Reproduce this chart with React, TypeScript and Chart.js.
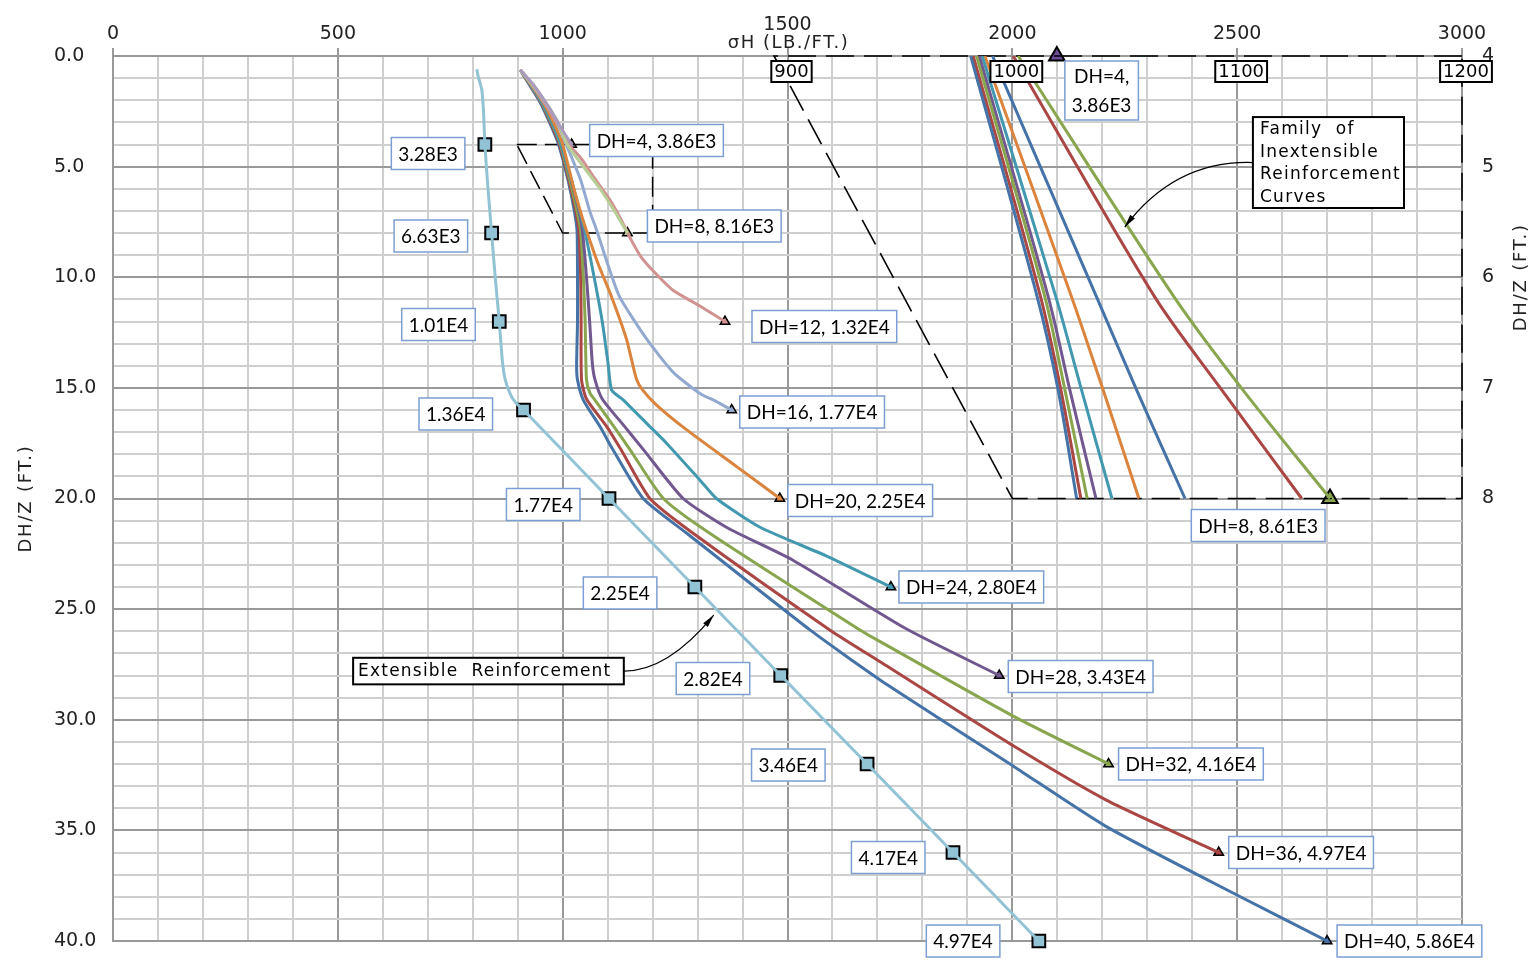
import React, { useEffect, useRef } from 'react';
import { Chart, registerables } from 'chart.js';

Chart.register(...registerables);

// ---------------- axis ticks ----------------
const sigmaTicks = [0, 500, 1000, 1500, 2000, 2500, 3000];
const depthTicks = [0, 5, 10, 15, 20, 25, 30, 35, 40];
const insetDepthTicks = [4, 5, 6, 7, 8];
const insetSigmaTicks = [900, 1000, 1100, 1200];

// ---------------- extensible reinforcement ----------------
const extSigma = [809, 813, 820, 824, 827, 834, 842, 850, 859, 866, 872, 884, 897, 913, 1103, 1294, 1485, 1677, 1868, 2059];
const extDepth = [0.6, 1.0, 1.5, 2.5, 4, 6, 8, 10, 12, 13.8, 14.6, 15.3, 15.7, 16, 20, 24, 28, 32, 36, 40];
const extMarkSigma = [827, 842, 859, 913, 1103, 1294, 1485, 1677, 1868, 2059];
const extMarkDepth = [4, 8, 12, 16, 20, 24, 28, 32, 36, 40];
const extMarkLabels = ['3.28E3', '6.63E3', '1.01E4', '1.36E4', '1.77E4', '2.25E4', '2.82E4', '3.46E4', '4.17E4', '4.97E4'];

// ---------------- DH curves (main plot) ----------------
const dh4Sigma = [906, 935, 972, 1001, 1020];
const dh4Depth = [0.63, 1.3, 2.4, 3.4, 4];
const dh8Sigma = [906, 933, 962, 990, 1010, 1046, 1083, 1115, 1144];
const dh8Depth = [0.63, 1.3, 2.1, 3.0, 4.0, 5.0, 6.0, 7.0, 8.0];
const dh12Sigma = [906, 932, 962, 990, 1014, 1040, 1070, 1105, 1130, 1152, 1175, 1210, 1246, 1305, 1361];
const dh12Depth = [0.63, 1.3, 2.2, 3.1, 4.0, 4.6, 5.5, 6.5, 7.4, 8.3, 9.1, 9.9, 10.6, 11.3, 12.0];
const dh16Sigma = [906, 936, 966, 994, 1008, 1040, 1060, 1076, 1100, 1127, 1187, 1246, 1305, 1340, 1376];
const dh16Depth = [0.63, 1.4, 2.3, 3.3, 4.0, 5.6, 7.0, 7.9, 9.4, 10.9, 12.8, 14.3, 15.25, 15.6, 16.0];
const dh20Sigma = [906, 930, 957, 982, 1000, 1025, 1042, 1053, 1079, 1109, 1142, 1164, 1178, 1210, 1276, 1387, 1483];
const dh20Depth = [0.63, 1.3, 2.1, 3.1, 4.0, 6.0, 7.2, 7.9, 9.4, 10.9, 12.8, 14.6, 15.1, 15.8, 16.9, 18.56, 20.0];
const dh24Sigma = [906, 928, 954, 978, 996, 1018, 1035, 1049, 1070, 1088, 1101, 1109, 1135, 1194, 1231, 1305, 1342, 1439, 1587, 1730];
const dh24Depth = [0.63, 1.3, 2.1, 3.1, 4.0, 5.5, 6.8, 7.9, 10.0, 12.0, 13.9, 15.1, 15.55, 16.75, 17.5, 19.16, 20.0, 21.3, 22.6, 24.0];
const dh28Sigma = [906, 929, 955, 979, 997, 1020, 1036, 1044, 1053, 1060, 1066, 1072, 1088, 1138, 1180, 1268, 1364, 1513, 1765, 1971];
const dh28Depth = [0.63, 1.3, 2.1, 3.1, 4.0, 5.7, 7.0, 7.9, 10.0, 12.0, 13.9, 14.64, 15.5, 16.75, 17.8, 20.0, 21.3, 22.8, 25.9, 28.0];
const dh32Sigma = [906, 928, 953, 977, 995, 1017, 1032, 1040, 1046, 1050, 1053, 1061, 1072, 1114, 1150, 1224, 1327, 1661, 1706, 2004, 2214];
const dh32Depth = [0.63, 1.3, 2.1, 3.1, 4.0, 5.7, 7.0, 7.9, 10.0, 12.0, 14.64, 15.25, 15.55, 16.75, 17.8, 20.0, 21.57, 25.94, 26.47, 29.86, 32.0];
const dh36Sigma = [906, 927, 952, 975, 993, 1015, 1029, 1036, 1040, 1041, 1042, 1053, 1098, 1130, 1194, 1290, 1594, 1706, 2004, 2209, 2459];
const dh36Depth = [0.63, 1.3, 2.1, 3.1, 4.0, 5.7, 7.0, 7.9, 10.0, 12.0, 14.64, 15.5, 16.75, 17.8, 20.0, 21.57, 25.94, 27.38, 31.2, 33.63, 36.0];
const dh40Sigma = [906, 926, 950, 973, 991, 1013, 1026, 1032, 1033, 1033, 1031, 1033, 1046, 1083, 1112, 1179, 1276, 1550, 1706, 2004, 2209, 2507, 2700];
const dh40Depth = [0.63, 1.3, 2.1, 3.1, 4.0, 5.7, 7.0, 7.9, 10.0, 12.0, 14.0, 14.64, 15.55, 16.75, 17.8, 20.0, 21.57, 25.94, 28.2, 32.12, 34.83, 38.0, 40.0];

const dhSigma = [dh4Sigma, dh8Sigma, dh12Sigma, dh16Sigma, dh20Sigma, dh24Sigma, dh28Sigma, dh32Sigma, dh36Sigma, dh40Sigma];
const dhDepth = [dh4Depth, dh8Depth, dh12Depth, dh16Depth, dh20Depth, dh24Depth, dh28Depth, dh32Depth, dh36Depth, dh40Depth];
const dhLabels = ['DH=4, 3.86E3', 'DH=8, 8.16E3', 'DH=12, 1.32E4', 'DH=16, 1.77E4', 'DH=20, 2.25E4', 'DH=24, 2.80E4', 'DH=28, 3.43E4', 'DH=32, 4.16E4', 'DH=36, 4.97E4', 'DH=40, 5.86E4'];
const dhColors = ['#A99BBD', '#B9CD96', '#D19392', '#93A9CF', '#DB843D', '#4198AF', '#71588F', '#89A54E', '#AA4643', '#4572A7'];

// ---------------- inset: inextensible family (DH/Z 4..8, sigma 900..1200) ----------------
const insetDepth = [4, 6.18, 7.02, 8];
const inset1Sigma = [981.5, 1011.1, 1020.4, 1028.6];
const inset2Sigma = [982.6, 1012.6, 1021.6, 1030.5];
const inset3Sigma = [984.1, 1014.5, 1023.4, 1033.3];
const inset4Sigma = [985.3, 1016.0, 1025.6, 1037.2];
const inset5Sigma = [986.6, 1019.4, 1030.8, 1044.3];
const inset6Sigma = [987.8, 1026.4, 1040.4, 1056.3];
const inset7Sigma = [991.2, 1037.5, 1055.3, 1076.8];
const inset8Sigma = [1000.4, 1063.4, 1093.2, 1128.7];
const inset9Sigma = [1002.6, 1072.0, 1102.6, 1141.3];
const insetSigma = [inset1Sigma, inset2Sigma, inset3Sigma, inset4Sigma, inset5Sigma, inset6Sigma, inset7Sigma, inset8Sigma, inset9Sigma];
const insetColors = ['#4572A7', '#AA4643', '#89A54E', '#71588F', '#4198AF', '#DB843D', '#4572A7', '#AA4643', '#89A54E'];
const insetMarkSigma = [1019.8, 1141.3];
const insetMarkDepth = [4, 8];
const insetMarkColors = ['#6B4E98', '#89A54E'];

// zoom-indicator outlines
const smallBoxSigma = [898, 1200, 1200, 1000, 898];
const smallBoxDepth = [4, 4, 8, 8, 4];
const insetBoxSigma = [1200, 894, 1000, 1200, 1200];
const insetBoxDepth = [4, 4, 8, 8, 4];

// ---------------- layout of annotations (not data) ----------------
const extLabelGap = [20, 24, 24, 31, 29, 38, 31, 42, 28, 39];
const extLabelDy = [9, 3, 3, 4, 6, 6, 3, 1, 5, 0];
const dhLabelGap = [18, 20, 27, 8, 8, 8, 9, 10, 10, 10];
const dhLabelDy = [-4, -7, 5, 2, 2, 0, 1, 0, 0, 0];
const extNote = { left: 534, right: 1136, top: 27.2, bottom: 28.4, ctrlX: 1234, ctrlY: 27.8, tipX: 1336, tipY: 25.27 };
const famNote = { left: 2535, right: 2871, top: 2.76, bottom: 6.87, ctrlX: 2362, ctrlY: 4.7, tipX: 2250, tipY: 7.73 };

const CAD = '"DejaVu Sans", sans-serif';
const LBL = 'Lato, "Noto Sans", sans-serif';
const BOX_BLUE = '#7C9ED2';

const pts = (xs: number[], ys: number[]) => xs.map((x, i) => ({ x, y: ys[i] }));

function labelBox(ctx: CanvasRenderingContext2D, lines: string[], x: number, y: number, w: number, h: number) {
  ctx.fillStyle = '#fff';
  ctx.fillRect(x, y, w, h);
  ctx.strokeStyle = BOX_BLUE;
  ctx.lineWidth = 1.5;
  ctx.strokeRect(x, y, w, h);
  ctx.fillStyle = '#000';
  ctx.textAlign = 'center';
  ctx.textBaseline = 'middle';
  const lh = h / lines.length;
  lines.forEach((t, i) => ctx.fillText(t, x + w / 2, y + lh * (i + 0.5) + 1));
}

function spacedText(ctx: any, text: string, x: number, y: number, spacing: number) {
  ctx.letterSpacing = spacing + 'px';
  ctx.fillText(text, x, y);
  ctx.letterSpacing = '0px';
}

function arrowCurve(ctx: CanvasRenderingContext2D, x0: number, y0: number, cx: number, cy: number, x1: number, y1: number) {
  ctx.strokeStyle = '#000';
  ctx.lineWidth = 1.2;
  ctx.beginPath();
  ctx.moveTo(x0, y0);
  ctx.quadraticCurveTo(cx, cy, x1, y1);
  ctx.stroke();
  const a = Math.atan2(y1 - cy, x1 - cx);
  const len = 13, hw = 3;
  ctx.fillStyle = '#000';
  ctx.beginPath();
  ctx.moveTo(x1, y1);
  ctx.lineTo(x1 - len * Math.cos(a) + hw * Math.sin(a), y1 - len * Math.sin(a) - hw * Math.cos(a));
  ctx.lineTo(x1 - len * Math.cos(a) - hw * Math.sin(a), y1 - len * Math.sin(a) + hw * Math.cos(a));
  ctx.closePath();
  ctx.fill();
}

const annotationPlugin = {
  id: 'annotations',
  afterDatasetsDraw(chart: any) {
    const ctx: CanvasRenderingContext2D = chart.ctx;
    const xs = chart.scales.x, ys = chart.scales.y, xi = chart.scales.xInset, yi = chart.scales.yInset;
    const area = chart.chartArea;
    ctx.save();

    // extensible labels
    ctx.font = `19px ${LBL}`;
    extMarkSigma.forEach((s, i) => {
      const px = xs.getPixelForValue(s), py = ys.getPixelForValue(extMarkDepth[i]);
      const t = extMarkLabels[i];
      const w = ctx.measureText(t).width + 14, h = 32;
      const right = px - extLabelGap[i];
      labelBox(ctx, [t], right - w, py + extLabelDy[i] - h / 2, w, h);
    });
    // DH labels
    dhSigma.forEach((arr, i) => {
      const dep = dhDepth[i];
      const px = xs.getPixelForValue(arr[arr.length - 1]), py = ys.getPixelForValue(dep[dep.length - 1]);
      const t = dhLabels[i];
      const w = ctx.measureText(t).width + 14, h = 32;
      labelBox(ctx, [t], px + dhLabelGap[i], py + dhLabelDy[i] - h / 2, w, h);
    });
    // inset labels
    {
      const px = xi.getPixelForValue(insetMarkSigma[0]), py = yi.getPixelForValue(insetMarkDepth[0]);
      const lines = ['DH=4,', '3.86E3'];
      const w = Math.max(...lines.map((l) => ctx.measureText(l).width)) + 14;
      labelBox(ctx, lines, px + 8, py + 5, w, 59);
      const px2 = xi.getPixelForValue(insetMarkSigma[1]), py2 = yi.getPixelForValue(insetMarkDepth[1]);
      const t2 = 'DH=8, 8.61E3';
      const w2 = ctx.measureText(t2).width + 14;
      labelBox(ctx, [t2], px2 - 5 - w2, py2 + 11, w2, 32);
    }

    // inset boxed sigma ticks
    ctx.font = `18px ${CAD}`;
    insetSigmaTicks.forEach((v) => {
      const px = xi.getPixelForValue(v) + 4;
      const t = String(v);
      const w = ctx.measureText(t).width + 6;
      const top = area.top + 5, h = 21;
      ctx.fillStyle = '#fff';
      ctx.fillRect(px - w / 2, top, w, h);
      ctx.strokeStyle = '#000';
      ctx.lineWidth = 2;
      ctx.strokeRect(px - w / 2, top, w, h);
      ctx.fillStyle = '#000';
      ctx.textAlign = 'center';
      ctx.textBaseline = 'middle';
      ctx.fillText(t, px, top + h / 2 + 1);
    });

    // Extensible Reinforcement note
    {
      const l = xs.getPixelForValue(extNote.left), r = xs.getPixelForValue(extNote.right);
      const t = ys.getPixelForValue(extNote.top), b = ys.getPixelForValue(extNote.bottom);
      ctx.fillStyle = '#fff';
      ctx.fillRect(l, t, r - l, b - t);
      ctx.strokeStyle = '#000';
      ctx.lineWidth = 2;
      ctx.strokeRect(l, t, r - l, b - t);
      ctx.fillStyle = '#000';
      ctx.font = `17px ${CAD}`;
      ctx.textAlign = 'left';
      ctx.textBaseline = 'middle';
      spacedText(ctx, 'Extensible  Reinforcement', l + 5, (t + b) / 2 + 1, 1.2);
      arrowCurve(ctx, r, (t + b) / 2, xs.getPixelForValue(extNote.ctrlX), ys.getPixelForValue(extNote.ctrlY),
        xs.getPixelForValue(extNote.tipX), ys.getPixelForValue(extNote.tipY));
    }
    // Family note
    {
      const l = xs.getPixelForValue(famNote.left), r = xs.getPixelForValue(famNote.right);
      const t = ys.getPixelForValue(famNote.top), b = ys.getPixelForValue(famNote.bottom);
      ctx.fillStyle = '#fff';
      ctx.fillRect(l, t, r - l, b - t);
      ctx.strokeStyle = '#000';
      ctx.lineWidth = 2;
      ctx.strokeRect(l, t, r - l, b - t);
      ctx.fillStyle = '#000';
      ctx.font = `17px ${CAD}`;
      ctx.textAlign = 'left';
      ctx.textBaseline = 'middle';
      const lines = ['Family  of', 'Inextensible', 'Reinforcement', 'Curves'];
      const lh = (b - t) / 4;
      lines.forEach((s, i) => spacedText(ctx, s, l + 7, t + lh * (i + 0.5) + 1, 1.3));
      arrowCurve(ctx, l, (t + b) / 2, xs.getPixelForValue(famNote.ctrlX), ys.getPixelForValue(famNote.ctrlY),
        xs.getPixelForValue(famNote.tipX), ys.getPixelForValue(famNote.tipY));
    }

    // axis titles
    ctx.fillStyle = '#222';
    ctx.font = `18px ${CAD}`;
    ctx.textAlign = 'center';
    ctx.textBaseline = 'middle';
    spacedText(ctx, 'σH (LB./FT.)', xs.getPixelForValue(1500) + 1, area.top - 13, 1.5);
    ctx.save();
    ctx.translate(26, (area.top + area.bottom) / 2);
    ctx.rotate(-Math.PI / 2);
    spacedText(ctx, 'DH/Z (FT.)', 0, 0, 1.8);
    ctx.restore();
    ctx.save();
    ctx.translate(area.right + 59, yi.getPixelForValue(6));
    ctx.rotate(-Math.PI / 2);
    spacedText(ctx, 'DH/Z (FT.)', 0, 0, 1.8);
    ctx.restore();

    ctx.restore();
  },
};

function buildConfig(): any {
  const datasets: any[] = [];
  datasets.push({
    label: 'Extensible Reinforcement', data: pts(extSigma, extDepth), borderColor: '#92C3D5', borderWidth: 3,
    pointRadius: 0, showLine: true, tension: 0.2, xAxisID: 'x', yAxisID: 'y',
  });
  dhSigma.forEach((arr, i) => {
    datasets.push({
      label: dhLabels[i], data: pts(arr, dhDepth[i]), borderColor: dhColors[i], borderWidth: 3,
      pointRadius: 0, showLine: true, tension: 0.2, xAxisID: 'x', yAxisID: 'y',
    });
  });
  insetSigma.forEach((arr, i) => {
    datasets.push({
      label: 'Inextensible ' + (i + 1), data: pts(arr, insetDepth), borderColor: insetColors[i], borderWidth: 3,
      pointRadius: 0, showLine: true, tension: 0.3, xAxisID: 'xInset', yAxisID: 'yInset',
    });
  });
  datasets.push({
    label: 'zoom box', data: pts(smallBoxSigma, smallBoxDepth), borderColor: '#000', borderWidth: 1.5,
    borderDash: [20, 8], pointRadius: 0, showLine: true, tension: 0, xAxisID: 'x', yAxisID: 'y', clip: false,
  });
  datasets.push({
    label: 'inset box', data: pts(insetBoxSigma, insetBoxDepth), borderColor: '#000', borderWidth: 1.6,
    borderDash: [28, 10], pointRadius: 0, showLine: true, tension: 0, xAxisID: 'xInset', yAxisID: 'yInset', clip: false,
  });
  datasets.push({
    label: 'ext markers', data: pts(extMarkSigma, extMarkDepth), showLine: false, pointStyle: 'rect', pointRadius: 9,
    pointBackgroundColor: '#92C3D5', pointBorderColor: '#000', pointBorderWidth: 2, xAxisID: 'x', yAxisID: 'y', clip: false,
  });
  datasets.push({
    label: 'DH markers',
    data: dhSigma.map((arr, i) => ({ x: arr[arr.length - 1], y: dhDepth[i][dhDepth[i].length - 1] })),
    showLine: false, pointStyle: 'triangle', pointRadius: 5.5, pointBackgroundColor: dhColors,
    pointBorderColor: '#000', pointBorderWidth: 1.5, xAxisID: 'x', yAxisID: 'y', clip: false,
  });
  datasets.push({
    label: 'inset markers', data: pts(insetMarkSigma, insetMarkDepth), showLine: false, pointStyle: 'triangle',
    pointRadius: 9, pointBackgroundColor: insetMarkColors, pointBorderColor: '#000', pointBorderWidth: 2,
    xAxisID: 'xInset', yAxisID: 'yInset', clip: false,
  });

  const isMajorX = (v: number) => sigmaTicks.includes(Math.round(v));
  const isMajorY = (v: number) => depthTicks.includes(Math.round(v * 100) / 100);
  const noEndPadding = (s: any) => { s.paddingTop = 0; s.paddingBottom = 0; };

  return {
    type: 'scatter',
    data: { datasets },
    options: {
      animation: false,
      responsive: true,
      maintainAspectRatio: false,
      layout: { padding: { left: 54, top: 0, right: 0, bottom: 22 } },
      plugins: { legend: { display: false }, tooltip: { enabled: false } },
      scales: {
        x: {
          type: 'linear', position: 'top', min: 0, max: 3000,
          afterFit: (s: any) => { s.height = 56; },
          ticks: {
            stepSize: 100, autoSkip: false, maxRotation: 0, padding: 3, color: '#222',
            font: (c: any) => ({ family: CAD, size: 19, lineHeight: c.tick && c.tick.value === 1500 ? 0.7 : 1.2 }),
            callback: (v: number) => (isMajorX(v) ? (Math.round(v) === 1500 ? ['1500', ''] : String(Math.round(v))) : ''),
          },
          grid: {
            color: (c: any) => (c.tick && isMajorX(c.tick.value) ? '#999999' : '#cfcfcf'),
            lineWidth: 2, tickLength: 8, tickWidth: 2,
            tickColor: (c: any) => (c.tick && isMajorX(c.tick.value) ? '#999999' : 'rgba(0,0,0,0)'),
          },
          border: { color: '#999999', width: 2 },
        },
        y: {
          type: 'linear', position: 'left', min: 0, max: 40, reverse: true,
          afterFit: (s: any) => { s.width = 59; noEndPadding(s); },
          ticks: {
            stepSize: 1, autoSkip: false, crossAlign: 'far', padding: 20, color: '#222',
            font: { family: CAD, size: 19 },
            callback: (v: number) => (isMajorY(v) ? v.toFixed(1) : ''),
          },
          grid: {
            color: (c: any) => (c.tick && isMajorY(c.tick.value) ? '#999999' : '#cfcfcf'),
            lineWidth: 2, drawTicks: false,
          },
          border: { color: '#999999', width: 2 },
        },
        yInset: {
          type: 'linear', position: 'right', min: 4, max: 12, reverse: true,
          afterFit: (s: any) => { s.width = 72; noEndPadding(s); },
          ticks: {
            stepSize: 1, autoSkip: false, padding: 20, color: '#222',
            font: { family: CAD, size: 19 },
            callback: (v: number) => (insetDepthTicks.includes(v) ? String(v) : ''),
          },
          grid: { display: false, drawTicks: false },
          border: { display: false },
        },
        xInset: { type: 'linear', display: false, min: 600, max: 1200 },
      },
    },
    plugins: [annotationPlugin],
  };
}

export default function App() {
  const ref = useRef<HTMLCanvasElement>(null);
  useEffect(() => {
    if (!ref.current) return;
    const chart = new Chart(ref.current, buildConfig());
    return () => chart.destroy();
  }, []);
  return (
    <div style={{ position: 'fixed', left: 0, top: 0, width: 1534, height: 963, background: '#fff' }}>
      <canvas ref={ref} />
    </div>
  );
}
